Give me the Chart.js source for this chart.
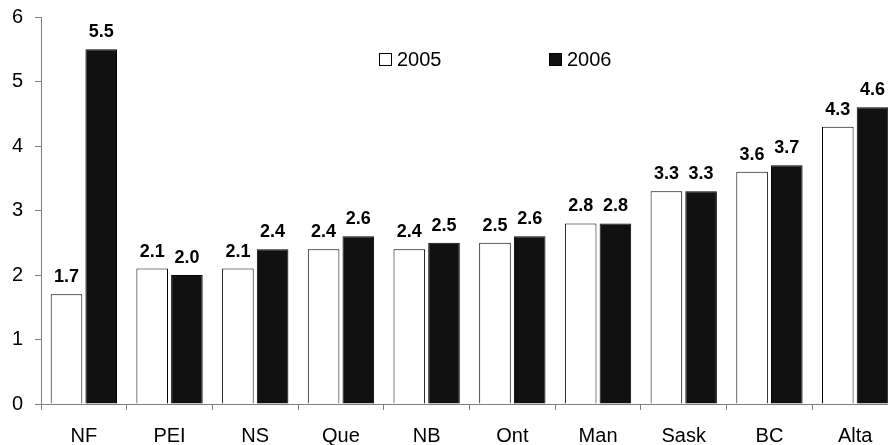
<!DOCTYPE html>
<html>
<head>
<meta charset="utf-8">
<script src="https://cdn.jsdelivr.net/npm/chart.js@4/dist/chart.umd.min.js"></script>
<style>
  html, body { margin: 0; padding: 0; background: #fff; overflow: hidden; }
  #wrap { width: 898px; height: 445px; }
</style>
</head>
<body>
<div id="wrap"><canvas id="c" width="898" height="445"></canvas></div>
<script>
const provinces = ['NF', 'PEI', 'NS', 'Que', 'NB', 'Ont', 'Man', 'Sask', 'BC', 'Alta'];
const values2005 = [1.7, 2.1, 2.1, 2.4, 2.4, 2.5, 2.8, 3.3, 3.6, 4.3];
const values2006 = [5.5, 2.0, 2.4, 2.6, 2.5, 2.6, 2.8, 3.3, 3.7, 4.6];
const seriesNames = ['2005', '2006'];
const yTicks = [0, 1, 2, 3, 4, 5, 6];

const FONT = '"Liberation Sans", Arial, sans-serif';
const AXIS_GREY = '#7f7f7f';

// Bold value labels above each bar
const valueLabels = {
  id: 'valueLabels',
  afterDatasetsDraw(chart) {
    const ctx = chart.ctx;
    ctx.save();
    ctx.font = 'bold 18px ' + FONT;
    ctx.fillStyle = '#000';
    ctx.textAlign = 'center';
    ctx.textBaseline = 'alphabetic';
    chart.data.datasets.forEach((ds, di) => {
      chart.getDatasetMeta(di).data.forEach((bar, i) => {
        ctx.fillText(ds.data[i].toFixed(1), bar.x, bar.y - 12);
      });
    });
    ctx.restore();
  }
};

// Inline legend with small square swatches
const inlineLegend = {
  id: 'inlineLegend',
  afterDraw(chart) {
    const ctx = chart.ctx;
    const xs = [379, 549];
    ctx.save();
    ctx.font = '20px ' + FONT;
    ctx.textBaseline = 'middle';
    ctx.textAlign = 'left';
    chart.data.datasets.forEach((ds, di) => {
      const x = xs[di], y = 60;
      ctx.fillStyle = ds.backgroundColor;
      ctx.fillRect(x + 0.5, y - 6.5, 12, 12);
      ctx.strokeStyle = '#000';
      ctx.lineWidth = 1;
      ctx.strokeRect(x + 0.5, y - 6.5, 12, 12);
      ctx.fillStyle = '#000';
      ctx.fillText(ds.label, x + 18, y);
    });
    ctx.restore();
  }
};

new Chart(document.getElementById('c'), {
  type: 'bar',
  data: {
    labels: provinces,
    datasets: [
      { label: seriesNames[0], data: values2005, backgroundColor: '#ffffff', borderColor: '#000000', borderWidth: 1 },
      { label: seriesNames[1], data: values2006, backgroundColor: '#111111', borderColor: '#000000', borderWidth: 1 }
    ]
  },
  options: {
    responsive: false,
    animation: false,
    events: [],
    categoryPercentage: 0.81,
    barPercentage: 0.91,
    layout: { padding: { top: 17, right: 0, bottom: 0, left: 0 } },
    plugins: { legend: { display: false }, tooltip: { enabled: false } },
    scales: {
      x: {
        grid: { display: true, offset: true, drawOnChartArea: false, drawTicks: true, tickLength: 6, color: AXIS_GREY, lineWidth: 1 },
        border: { display: true, color: AXIS_GREY, width: 1 },
        ticks: { color: '#000', font: { family: FONT, size: 20 }, padding: 14, maxRotation: 0 },
        afterFit(s) { s.height = 41; s.paddingLeft = 0; s.paddingRight = 0; }
      },
      y: {
        min: 0, max: 6,
        afterBuildTicks(s) { s.ticks = yTicks.map(v => ({ value: v })); },
        grid: { display: true, drawOnChartArea: false, drawTicks: true, tickLength: 6, color: AXIS_GREY, lineWidth: 1 },
        border: { display: true, color: AXIS_GREY, width: 1 },
        ticks: { color: '#000', font: { family: FONT, size: 20 }, padding: 12 },
        afterFit(s) { s.width = 41; s.paddingTop = 0; s.paddingBottom = 0; }
      }
    }
  },
  plugins: [valueLabels, inlineLegend]
});
</script>
</body>
</html>
